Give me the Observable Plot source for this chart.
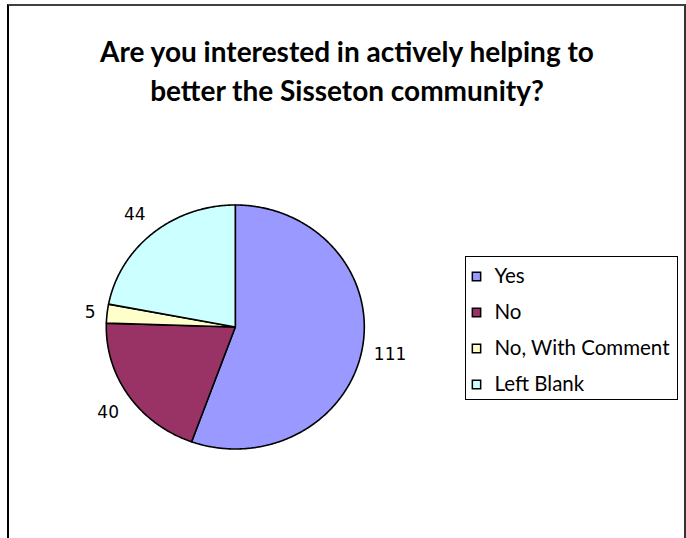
<!DOCTYPE html>
<html>
<head>
<meta charset="utf-8">
<script src="https://cdn.jsdelivr.net/npm/d3@7"></script>
<script src="https://cdn.jsdelivr.net/npm/@observablehq/plot@0.6"></script>
<style>
  html, body { margin: 0; padding: 0; background: #fff; overflow: hidden; }
  #chart { position: relative; width: 686px; height: 538px; overflow: hidden; }
  #border { position: absolute; left: 7px; top: 4px; width: 675px; height: 600px;
            border-top: 2px solid #404040; border-left: 2px solid #000; border-right: 2px solid #333; }
  .title { position: absolute; left: 0; width: 686px; text-align: center;
           font-family: Lato, "Open Sans", sans-serif; font-weight: bold; font-size: 28px; line-height: 28px; color: #000; white-space: nowrap;
           transform: translateX(4px); }
  #t1 { top: 37px; }
  #t2 { top: 76px; }
  #pie { position: absolute; left: 0; top: 0; }
  #legend { position: absolute; left: 465px; top: 256px; width: 211px; height: 142px; border: 1px solid #000; }
  #legend svg, #pie svg { display: block; }
</style>
</head>
<body>
<div id="chart">
  <div id="border"></div>
  <div class="title" id="t1">Are you interested in actively helping to</div>
  <div class="title" id="t2">better the Sisseton community?</div>
  <div id="pie"></div>
  <div id="legend"></div>
</div>
<script>
const categories = ["Yes", "No", "No, With Comment", "Left Blank"];
const values = [111, 40, 5, 44];
const colors = ["#9999FF", "#993366", "#FFFFCC", "#CCFFFF"];
const valueLabels = values.map(String);

const total = d3.sum(values);
let acc = 0;
const slices = categories.map((c, i) => {
  const a0 = acc / total * 2 * Math.PI;
  acc += values[i];
  const a1 = acc / total * 2 * Math.PI;
  const n = Math.max(2, Math.ceil((a1 - a0) / (Math.PI / 360)));
  const pts = [{x: 0, y: 0}];
  for (let k = 0; k <= n; k++) {
    const a = a0 + (a1 - a0) * k / n;
    pts.push({x: Math.sin(a), y: Math.cos(a)});
  }
  pts.push({x: 0, y: 0});
  const mid = (a0 + a1) / 2;
  return {category: c, color: colors[i], points: pts, mid, label: valueLabels[i]};
});

const labelData = slices.map(s => ({
  label: s.label,
  x: 1.09 * Math.sin(s.mid),
  y: 1.22 * Math.cos(s.mid),
  right: Math.sin(s.mid) >= 0
}));

const cx = 234.8, cy = 326.5, rx = 129, ry = 122;

const pie = Plot.plot({
  width: 686, height: 538, margin: 0,
  x: {domain: [-1, 1], range: [cx - rx, cx + rx], axis: null},
  y: {domain: [-1, 1], range: [cy + ry, cy - ry], axis: null},
  marks: [
    ...slices.map(s => Plot.line(s.points, {x: "x", y: "y", fill: s.color, stroke: "#000", strokeWidth: 1.6, strokeLinejoin: "round", curve: "linear"})),
    Plot.text(labelData.filter(d => d.right), {x: "x", y: "y", text: "label", textAnchor: "start", lineAnchor: "middle", dy: 2,
      fontFamily: "DejaVu Sans", fontSize: 17, fill: "#000"}),
    Plot.text(labelData.filter(d => !d.right), {x: "x", y: "y", text: "label", textAnchor: "end", lineAnchor: "middle", dy: 2,
      fontFamily: "DejaVu Sans", fontSize: 17, fill: "#000"})
  ]
});
document.getElementById("pie").appendChild(pie);

const legendData = categories.map((c, i) => ({category: c, color: colors[i]}));
const legend = Plot.plot({
  width: 211, height: 142, margin: 0,
  x: {axis: null},
  y: {type: "point", domain: categories, range: [19, 127], padding: 0, axis: null},
  color: {type: "identity"},
  marks: [
    Plot.dot(legendData, {y: "category", frameAnchor: "left", dx: 10, symbol: "square", r: 4.7, fill: "color", stroke: "#000", strokeWidth: 1.5}),
    Plot.text(legendData, {y: "category", text: "category", frameAnchor: "left", dx: 28, textAnchor: "start", lineAnchor: "middle",
      fontFamily: "Lato, 'Open Sans', sans-serif", fontSize: 20.5, fill: "#000"})
  ]
});
document.getElementById("legend").appendChild(legend);
</script>
</body>
</html>
